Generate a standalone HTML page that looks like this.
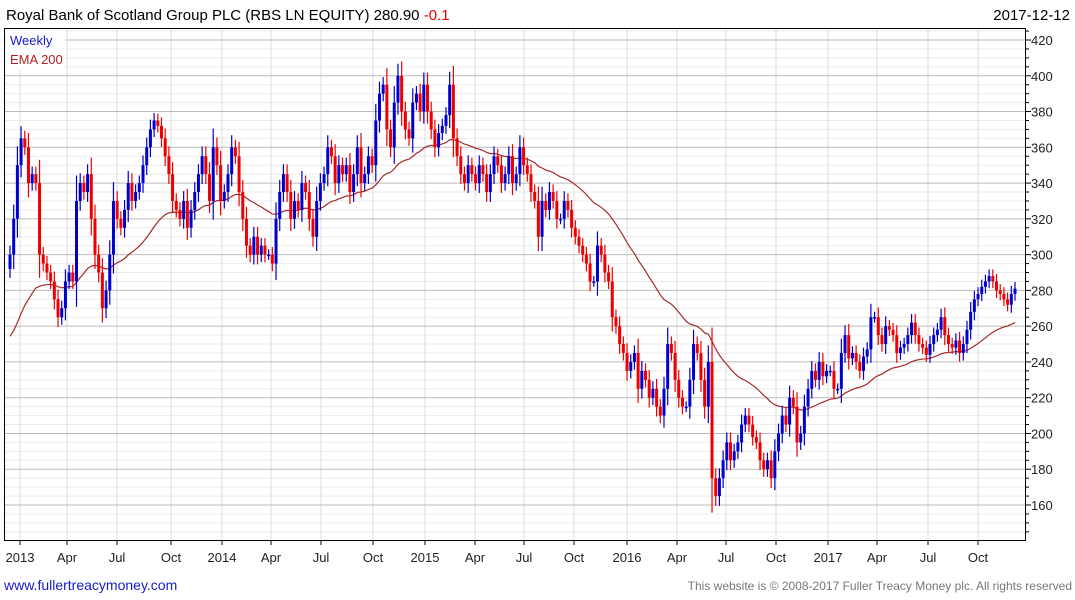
<!DOCTYPE html>
<html><head><meta charset="utf-8"><style>
body{margin:0;background:#fff;font-family:"Liberation Sans",sans-serif;}
svg{display:block}
</style></head><body>
<svg id="c" width="1075" height="600">
<rect x="0" y="0" width="1075" height="600" fill="#fff"/>
<text x="6" y="20" font-size="15" fill="#000">Royal Bank of Scotland Group PLC (RBS LN EQUITY) 280.90 <tspan fill="#e00000">-0.1</tspan></text>
<text x="1070" y="20" font-size="15" text-anchor="end" fill="#000">2017-12-12</text>
<g id="grid"></g>
<g id="ema"></g>
<g id="candles"></g>
<g id="axes"></g>
<rect x="6" y="30" width="60" height="40" fill="#fff" opacity="0.9"/>
<text x="10" y="45" font-size="13" fill="#1a1acc">Weekly</text>
<text x="10" y="64" font-size="13" fill="#b22222">EMA 200</text>
<text x="4" y="590" font-size="14" fill="#1a1acc">www.fullertreacymoney.com</text>
<text x="1072" y="590" font-size="12" text-anchor="end" fill="#777">This website is © 2008-2017 Fuller Treacy Money plc. All rights reserved</text>
</svg>
<script>
const closes=[300,320,350,365,360, 340,345,340,300,295, 290,285,275,265, 270,285,290,285, 330,340,335,345,320, 300,290,270,280,
300,330,320,315,325, 340,330,335,340, 350,360,370,375,372, 365,355,345,330,325, 320,330,315,325,335, 345,355,345,330,
360,350,330,335,345, 360,355,335,320, 305,300,310,300, 305,300,300,295,320, 335,345,335,320, 330,325,340,335,320,
310,330,340,345, 360,355,340,350, 345,350,335,345,360, 340,345,355,350, 375,390,395,370,360, 385,400,380,370,
365,385,390,380, 395,380,370,360, 368,372,378,395,365, 355,345,340,350,345, 340,350,345,335, 345,355,350,340,345,
355,340,345,360,350, 345,335,330,310,330,325, 335,330,320,320, 330,325,315,310,305, 300,295,285,285,305, 300,290,285,
265,260,250,245, 235,240,245,225,235, 230,220,225,215,210, 225,250,245,230,220, 215,215,230,250, 245,230,215,240,175,
165,175,185,195, 185,190,195,205,210, 205,198,195,185,180, 185,175,190,200,210, 205,220,215,195,200, 215,225,235,230,
240,232,235,235,225, 225,245,255,242, 245,240,235,243,247, 265,265,255,250,260, 258,255,245,248,250, 255,262,255,250,
248,244,250,255,258, 265,255,250,248,252, 245,250,258,268, 275,278,282,285,288, 285,280,278,275,272, 278,281];
const yTicks=[160,180,200,220,240,260,280,300,320,340,360,380,400,420];
const xLabels=["2013","Apr","Jul","Oct","2014","Apr","Jul","Oct","2015","Apr","Jul","Oct","2016","Apr","Jul","Oct","2017","Apr","Jul","Oct"];
const xLabelPos=[20,67,117,171,222,271,321,373,425,475,524,574,627,677,726,776,828,877,928,978];
const emaSeed=[252];
const NS="http://www.w3.org/2000/svg";
function y(p){return 40+(420-p)*1.7885;}
const x0=10,x1=1015,n=closes.length,step=(x1-x0)/(n-1);
function x(i){return x0+i*step;}
function mk(t,a,parent){const e=document.createElementNS(NS,t);for(const k in a)e.setAttribute(k,a[k]);parent.appendChild(e);return e;}
const grid=document.getElementById('grid'),ax=document.getElementById('axes'),cg=document.getElementById('candles'),eg=document.getElementById('ema');
for(let p=145;p<=425;p+=5){if(p%20===0)continue;mk('line',{x1:5,x2:1025,y1:y(p),y2:y(p),stroke:'#ebebeb','stroke-width':1},grid);}
xLabelPos.forEach(px=>mk('line',{x1:px,x2:px,y1:28,y2:540,stroke:'#dcdcdc','stroke-width':1},grid));
yTicks.forEach(p=>{mk('line',{x1:5,x2:1025,y1:y(p),y2:y(p),stroke:'#bbb','stroke-width':1},grid);
 const t=mk('text',{x:1031,y:y(p)+5,'font-size':13,fill:'#222'},ax);t.textContent=p;
 
 });
for(let p=145;p<=425;p+=5)mk('line',{x1:1025,x2:p%20===0?1031:1029,y1:y(p),y2:y(p),stroke:'#000'},ax);
mk('rect',{x:4.5,y:28.5,width:1021,height:512,fill:'none',stroke:'#000','stroke-width':1},ax);
xLabels.forEach((l,i)=>{mk('line',{x1:xLabelPos[i],x2:xLabelPos[i],y1:540,y2:545,stroke:'#000'},ax);
 const t=mk('text',{x:xLabelPos[i],y:562,'font-size':13,'text-anchor':'middle',fill:'#222'},ax);t.textContent=l;
 
 });
let prev=closes[0]-8;
closes.forEach((c,i)=>{const o=prev;prev=c;const up=c>=o;const col=up?'#0000cc':'#ee0000';
 const top=y(Math.max(o,c)),bot=y(Math.min(o,c));const wick=Math.abs(c-o)*0.25+3;
 const g=mk('g',{},cg);
 
 
 mk('line',{x1:x(i),x2:x(i),y1:y(Math.max(o,c)+wick),y2:y(Math.min(o,c)-wick),stroke:col,'stroke-width':1.2},g);
 mk('rect',{x:x(i)-1.5,y:top,width:3,height:Math.max(1.5,bot-top),fill:col},g);});
let e=emaSeed[0];const a=2/41;const pts=[];
closes.forEach((c,i)=>{e=e+a*(c-e);pts.push(x(i)+','+y(e));});
const pl=mk('polyline',{points:pts.join(' '),fill:'none',stroke:'#a52a2a','stroke-width':1.2},eg);


</script>
</body></html>
